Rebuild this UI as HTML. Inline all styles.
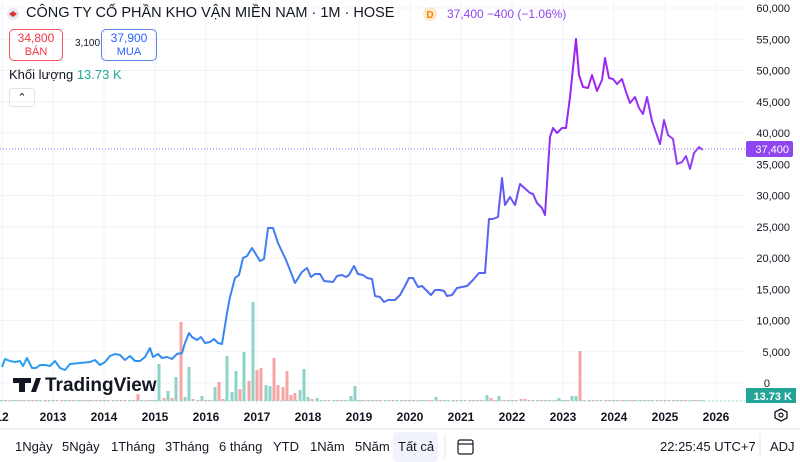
<!DOCTYPE html>
<html><head><meta charset="utf-8"><style>
body{margin:0;width:800px;height:462px;background:#fff;font-family:"Liberation Sans",sans-serif;position:relative;overflow:hidden;color:#131722}
.a{position:absolute;white-space:nowrap}
.tb{position:absolute;top:439px;font-size:13px;color:#131722}
</style></head><body>
<svg id="s" width="800" height="462" style="position:absolute;left:0;top:0">
<defs><linearGradient id="g" gradientUnits="userSpaceOnUse" x1="0" y1="0" x2="705" y2="0">
<stop offset="0" stop-color="#26a2f0"/><stop offset="0.35" stop-color="#3b82f0"/><stop offset="0.7" stop-color="#5a62f2"/><stop offset="0.82" stop-color="#a21ff0"/><stop offset="1" stop-color="#8e45f0"/></linearGradient></defs>
<g id="grid" stroke="#f0f3fa" stroke-width="1"></g>
<g id="vol"></g>
<polyline id="pl" fill="none" stroke="url(#g)" stroke-width="2" stroke-linejoin="round"/>
<line x1="0" y1="149" x2="745" y2="149" stroke="#9c5cf0" stroke-dasharray="1,2" stroke-width="1"/>
<line x1="0" y1="401" x2="745" y2="401" stroke="#9ad8d0" stroke-dasharray="2,2" stroke-width="1"/>
<line x1="0" y1="429" x2="800" y2="429" stroke="#e0e3eb"/>
<g id="yl" font-size="11" fill="#131722" text-anchor="end"></g>
<g id="xl" font-size="12" font-weight="bold" fill="#131722" text-anchor="middle"></g>
<rect x="746" y="141" width="47" height="16" rx="2" fill="#8f45f0"/>
<text x="789" y="153" font-size="11" fill="#fff" text-anchor="end">37,400</text>
<text x="770" y="387" font-size="11" fill="#131722" text-anchor="end">0</text>
<rect x="746" y="388" width="50" height="15" fill="#22a596"/>
<text x="792" y="400" font-size="11" fill="#fff" font-weight="bold" text-anchor="end">13.73 K</text>
<polygon points="775,412 781,409 787,412 787,418 781,421 775,418" fill="none" stroke="#131722" stroke-width="1.3"/>
<circle cx="781" cy="415" r="2" fill="none" stroke="#131722" stroke-width="1.2"/>
<line x1="445" y1="434" x2="445" y2="458" stroke="#e0e3eb"/>
<line x1="760" y1="434" x2="760" y2="458" stroke="#e0e3eb"/>
<rect x="458" y="440" width="15" height="14" rx="2" fill="none" stroke="#131722" stroke-width="1.2"/>
<line x1="458" y1="444" x2="473" y2="444" stroke="#131722" stroke-width="1.2"/>
<rect x="13" y="378" width="18" height="5" fill="#131722"/><rect x="19" y="378" width="6" height="14" fill="#131722"/>
<polygon points="31,392 36,378 41,378 36,392" fill="#131722"/>
<text x="45" y="391" font-size="19" font-weight="bold" fill="#131722">TradingView</text>
<circle cx="13" cy="14" r="6" fill="#e8eaf6"/><path d="M9,14 L13,11 L17,14 L13,17Z" fill="#d33"/>
<circle cx="430" cy="14" r="7" fill="#fde8d0"/><text x="430" y="18" font-size="10" fill="#f08a00" text-anchor="middle" font-weight="bold">D</text>
</svg>
<div class="a" style="left:26px;top:5px;font-size:14.5px">CÔNG TY CỔ PHẦN KHO VẬN MIỀN NAM · 1M · HOSE</div>
<div class="a" style="left:447px;top:7px;font-size:12px;color:#8f45f0">37,400 −400 (−1.06%)</div>
<div class="a" style="left:9px;top:29px;width:52px;height:28px;border:1px solid #f7525f;border-radius:5px;text-align:center;color:#f23645;font-size:12px;line-height:13px;padding-top:2px">34,800<br><span style="font-size:11px">BÁN</span></div>
<div class="a" style="left:75px;top:38px;font-size:10px;color:#131722">3,100</div>
<div class="a" style="left:101px;top:29px;width:54px;height:28px;border:1px solid #5b84f0;border-radius:5px;text-align:center;color:#2962ff;font-size:12px;line-height:13px;padding-top:2px">37,900<br><span style="font-size:11px">MUA</span></div>
<div class="a" style="left:9px;top:67px;font-size:13px">Khối lượng <span style="color:#22ab94">13.73 K</span></div>
<div class="a" style="left:9px;top:88px;width:24px;height:17px;border:1px solid #e0e3eb;border-radius:3px;text-align:center;font-size:11px;line-height:18px">⌃</div>
<div class="tb" style="left:15px">1Ngày</div><div class="tb" style="left:62px">5Ngày</div><div class="tb" style="left:111px">1Tháng</div><div class="tb" style="left:165px">3Tháng</div><div class="tb" style="left:219px">6 tháng</div><div class="tb" style="left:273px">YTD</div><div class="tb" style="left:310px">1Năm</div><div class="tb" style="left:355px">5Năm</div>
<div class="a" style="left:393px;top:432px;width:45px;height:30px;background:#f0f3fa;border-radius:4px"></div>
<div class="tb" style="left:398px">Tất cả</div>
<div class="tb" style="left:660px">22:25:45 UTC+7</div><div class="tb" style="left:770px">ADJ</div>
<script>
(function(){
var ns="http://www.w3.org/2000/svg",s=document;
function el(p,t,a,tx){var e=s.createElementNS(ns,t);for(var k in a)e.setAttribute(k,a[k]);if(tx)e.textContent=tx;s.getElementById(p).appendChild(e);}
for(var i=0;i<=12;i++){var y=8+i*31.25;el("grid","line",{x1:0,x2:745,y1:y,y2:y});if(i<12)el("yl","text",{x:790,y:y+4},(60000-i*5000).toLocaleString("en-US"));}
for(var yr=2012;yr<=2026;yr++){var x=53+(yr-2013)*51;el("grid","line",{x1:x,x2:x,y1:0,y2:405});el("xl","text",{x:x,y:421},yr==2012?"12":""+yr);}
var P=[2,367,5,359,10,361,15,362,20,361,23,366,27,358,32,368,36,368,40,365,45,365,50,366,55,361,60,368,65,370,70,364,80,363,90,362,95,360,100,365,105,362,110,356,115,354,120,355,125,360,130,356,135,361,140,361,145,357,150,348,153,357,158,354,162,358,167,357,172,359,177,354,182,353,185,343,189,333,192,337,197,340,201,337,205,343,210,342,214,339,218,343,222,344,227,313,230,297,235,278,239,275,243,258,247,256,252,248,260,261,264,259,268,228,273,228,278,243,286,260,290,270,295,283,302,272,307,268,311,277,315,274,320,274,324,281,333,282,337,276,342,275,346,277,349,275,354,266,358,274,363,275,367,278,372,279,375,296,380,297,384,302,388,300,395,300,400,295,405,286,409,278,413,278,418,287,422,286,426,290,431,295,435,290,440,290,444,291,447,296,452,295,457,288,462,287,467,286,473,280,479,273,485,273,489,219,493,219,498,217,502,178,505,205,510,197,515,205,520,184,530,193,533,194,537,203,542,208,545,215,550,137,553,128,557,133,562,128,566,128,570,97,576,39,579,75,583,87,588,88,592,75,597,91,602,80,605,58,609,78,613,79,617,84,622,79,626,92,630,103,635,97,639,108,643,114,647,97,652,121,660,144,664,120,668,135,673,139,677,164,682,162,686,156,690,169,694,153,699,147,703,150];
var pts=[];for(var i=0;i<P.length;i+=2)pts.push(P[i]+","+P[i+1]);s.getElementById("pl").setAttribute("points",pts.join(" "));
var V={137:[394,0],158:[364,1],162:[398,0],167:[391,1],171:[398,0],176:[377,1],180:[322,0],184:[397,1],188:[367,1],193:[399,0],201:[396,1],205:[400,0],214:[387,1],218:[382,0],222:[399,0],227:[356,1],231:[392,1],235:[371,1],239:[389,0],244:[352,1],248:[381,0],252:[302,1],256:[370,0],260:[368,0],265:[385,1],269:[386,1],273:[358,0],278:[385,0],282:[387,0],286:[371,0],290:[395,0],294:[393,0],299:[390,1],303:[369,1],307:[397,1],311:[399,0],315:[398,1],350:[396,1],355:[386,1],437:[397,1],488:[395,1],492:[398,0],501:[396,1],523:[399,0],558:[398,1],574:[396,1],578:[351,0]};
for(var x=2;x<705;x+=4.25){var k=Math.round(x),f=null;for(var d=-2;d<=2;d++)if(V[k+d]){f=V[k+d];break;}
var tp=f?f[0]:400,c=f?(f[1]?"#8fd3c8":"#f7a5a3"):((Math.floor(x/4.25)%3)?"#f7a5a3":"#8fd3c8");
el("vol","rect",{x:k-1.5,y:tp,width:3,height:401-tp,fill:c});}
})();
</script>
</body></html>
